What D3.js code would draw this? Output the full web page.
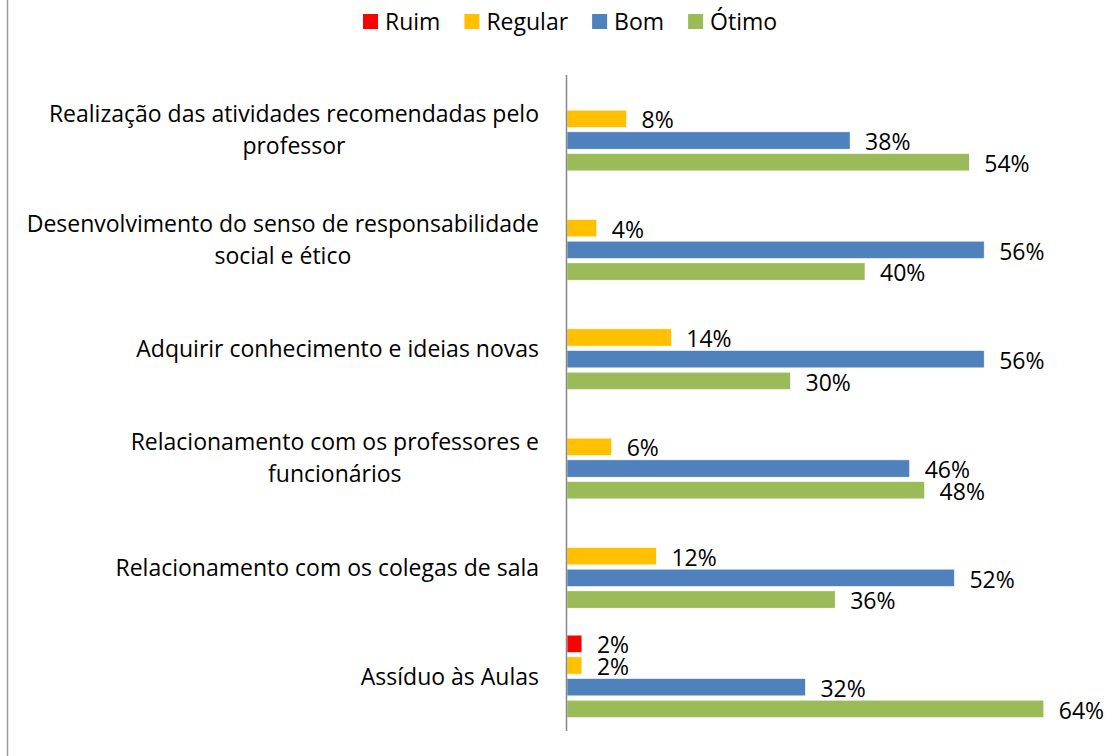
<!DOCTYPE html>
<html>
<head>
<meta charset="utf-8">
<script src="https://cdn.jsdelivr.net/npm/d3@7"></script>
<style>
  body { margin: 0; background: #fff; }
  svg text { font-family: "Open Sans", sans-serif; fill: #000; }
</style>
</head>
<body>
<div id="chart"></div>
<script>
// categories top to bottom, each label split into lines
var categories = [
  ["Realização das atividades recomendadas pelo", "professor"],
  ["Desenvolvimento do senso de responsabilidade", "social e ético"],
  ["Adquirir conhecimento e ideias novas"],
  ["Relacionamento com os professores e", "funcionários"],
  ["Relacionamento com os colegas de sala"],
  ["Assíduo às Aulas"]
];
var seriesNames = ["Ruim", "Regular", "Bom", "Ótimo"];
var seriesColors = ["#FF0000", "#FFC000", "#4F81BD", "#9BBB59"];

// percent values per category, same order as categories
var ruim    = [0, 0, 0, 0, 0, 2];
var regular = [8, 4, 14, 6, 12, 2];
var bom     = [38, 56, 56, 46, 52, 32];
var otimo   = [54, 40, 30, 48, 36, 64];

var seriesValues = [ruim, regular, bom, otimo];

var width = 1117, height = 756;
var fontSize = 23;

var svg = d3.select("#chart").append("svg")
  .attr("width", width)
  .attr("height", height);

// left frame line
svg.append("line")
  .attr("x1", 7.5).attr("x2", 7.5)
  .attr("y1", 0).attr("y2", height)
  .style("stroke", "#9a9a9a")
  .style("stroke-width", 1.5);

var x = d3.scaleLinear().domain([0, 70]).range([567, 1088.5]);

var y = d3.scaleBand()
  .domain(d3.range(categories.length))
  .range([75, 731])
  .padding(0);

var ySub = d3.scaleBand()
  .domain(seriesNames)
  .range([0, y.bandwidth()])
  .paddingInner(0.2)
  .paddingOuter(0.62);

// bars
seriesNames.forEach(function(name, s) {
  var vals = seriesValues[s];
  var rows = vals.map(function(v, i) { return {i: i, v: v}; })
    .filter(function(d) { return d.v > 0; });

  svg.selectAll(".bar-" + s)
    .data(rows)
    .enter().append("rect")
    .attr("class", "bar-" + s)
    .attr("x", x(0))
    .attr("y", function(d) { return y(d.i) + ySub(name); })
    .attr("width", function(d) { return x(d.v) - x(0); })
    .attr("height", ySub.bandwidth())
    .style("fill", seriesColors[s])
    .style("stroke", "#fff")
    .style("stroke-width", 0.6);

  svg.selectAll(".lbl-" + s)
    .data(rows)
    .enter().append("text")
    .attr("class", "lbl-" + s)
    .attr("x", function(d) { return x(d.v) + 15; })
    .attr("y", function(d) { return y(d.i) + ySub(name) + ySub.bandwidth() / 2 + 3.5; })
    .attr("dominant-baseline", "middle")
    .style("font-size", fontSize + "px")
    .text(function(d) { return d.v + "%"; });
});

// vertical axis line
svg.append("line")
  .attr("x1", x(0) - 0.5).attr("x2", x(0) - 0.5)
  .attr("y1", y.range()[0]).attr("y2", y.range()[1])
  .style("stroke", "#868686")
  .style("stroke-width", 1.5);

// category labels: block right aligned, lines centred
var lineH = 32;
categories.forEach(function(lines, i) {
  var g = svg.append("g");
  var cy = y(i) + y.bandwidth() / 2 + 2.5;
  var texts = lines.map(function(t, k) {
    return g.append("text")
      .attr("y", cy + (k - (lines.length - 1) / 2) * lineH)
      .attr("dominant-baseline", "middle")
      .attr("text-anchor", "middle")
      .style("font-size", fontSize + "px")
      .text(t);
  });
  var maxW = d3.max(texts, function(t) { return t.node().getComputedTextLength(); });
  texts.forEach(function(t) { t.attr("x", 539 - maxW / 2); });
});

// legend
var legendX = 363;
seriesNames.forEach(function(name, s) {
  svg.append("rect")
    .attr("x", legendX).attr("y", 14)
    .attr("width", 15).attr("height", 15)
    .style("fill", seriesColors[s]);
  var t = svg.append("text")
    .attr("x", legendX + 22).attr("y", 23.8)
    .attr("dominant-baseline", "middle")
    .style("font-size", fontSize + "px")
    .text(name);
  legendX += 22 + t.node().getComputedTextLength() + 24;
});
</script>
</body>
</html>
